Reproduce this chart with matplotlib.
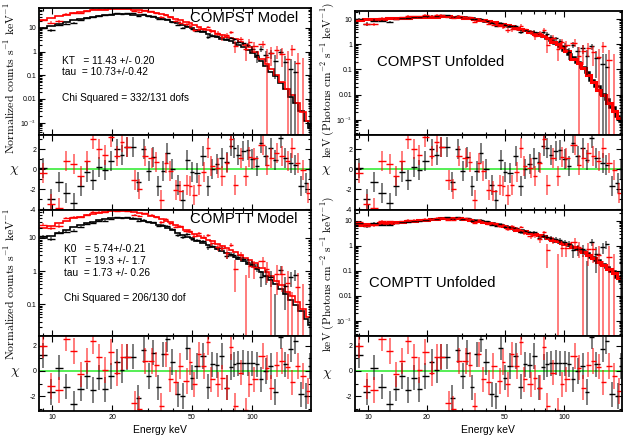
import numpy as np
import matplotlib
matplotlib.use("Agg")
import matplotlib.pyplot as plt
from matplotlib.ticker import FixedLocator, NullFormatter, FixedFormatter, LogLocator

plt.rcParams['mathtext.fontset'] = 'cm'
plt.rcParams['font.family'] = ['Liberation Sans', 'DejaVu Sans']

# ---------------- data (energies in keV) ----------------
e_blk = [9.0, 9.85, 10.8, 11.8, 12.9, 13.9, 15.0, 16.1, 17.2, 18.3, 19.6, 21.2, 22.4, 23.6, 25.4,
         26.9, 28.8, 30.5, 32.0, 34.0, 35.8, 37.6, 39.8, 42.8, 44.9, 47.5, 49.9, 53.0, 57.0, 60.0,
         63.3, 66.6, 70.5, 74.7, 78.5, 81.6, 85.4, 90.5, 95.1, 100.4, 106, 111, 117, 124, 130,
         139, 146, 157, 164, 175, 187, 195]
e_red = [9.0, 9.85, 10.8, 11.8, 12.9, 13.9, 15.0, 16.1, 17.2, 18.3, 19.6, 21.2, 22.4, 23.6,
         25.9, 27.3, 29.0, 31.5, 33.0, 35.2, 37.0, 38.8, 41.5, 43.5, 47.2, 49.0, 51.5, 54.0, 57.5,
         60.5, 62.5, 67.5, 71.0, 75.0, 78.8, 82.0, 88.1, 93.0, 97.0, 102.5, 112.9, 118.6, 125,
         132.8, 141, 150.6, 158, 169, 180, 190]

# residuals (chi) for the two fits
chi_compst_blk = [0.1, -3.0, -1.27, -2.4, -3.4, -1.73, -0.33, -1.07, 0.2, -0.13, 0.8, 2.0, 1.4, 2.2,
                  2.2, -1.33, 2.0, -0.15, 1.2, -1.7, -0.2, 1.6, 0.0, -1.57, -3.07, 0.93, -0.33,
                  -0.4, 1.33, -1.67, 0.0, 0.53, 1.1, 0.67, 2.3, 2.1, 1.43, 1.77, 1.87, 1.0, 0.27,
                  2.6, 1.33, 2.1, 0.93, 3.1, 1.1, 0.6, 0.43, -1.73, -1.4, 0.0]
chi_compst_red = [-0.4, -3.5, -3.9, 0.8, 0.53, -0.73, 0.8, 3.0, 2.0, 1.4, 3.17, 1.33, 2.7, 2.2,
                  -1.07, -2.0, 1.27, 1.1, 0.67, -3.1, 0.6, -0.23, -2.1, -2.23, -1.57, -1.73, -2.57,
                  -1.57, -0.33, 2.1, 0.33, 0.1, -0.73, 0.6, 3.0, -1.57, 1.1, -0.73, 1.2, 1.1, 2.43,
                  0.43, 1.1, 1.6, 1.27, 0.77, 2.1, 0.6, -0.07, -2.4]
chi_comptt_blk = [1.23, -1.65, 0.26, -1.23, -2.6, -1.39, -0.39, -1.49, -0.52, -1.44, -0.39, 0.7,
                  0.08, 1.1, 1.12, -2.1, 1.65, -0.39, 1.44, -1.3, 1.3, 2.5, 0.7, -1.83, -1.96, 1.83,
                  -0.52, 0.39, 1.18, -1.23, 0.52, 0.44, 1.18, -1.31, 0.3, 0.52, 0.6, 0.65, 0.6, 0.6,
                  0.52, -0.65, 0.0, 0.39, -1.65, 2.7, 0.52, 1.7, 2.35, -1.83, -1.96, 0.39]
chi_comptt_red = [2.0, -1.18, -1.49, 2.54, 1.57, -0.26, 0.78, 2.35, 1.1, 0.08, 1.49, -0.18, 1.1,
                  1.12, -2.54, -3.0, 0.78, 0.8, 0.5, -2.75, 1.3, -0.65, -0.9, 0.39, -0.78, 0.7,
                  -1.05, 1.3, 0.39, 2.27, -0.65, -1.05, -0.52, -1.31, 1.9, -2.75, -0.13, -3.1,
                  -1.05, -0.65, 1.18, 0.26, -1.31, 0.5, 0.78, 0.34, -0.9, 0.39, -0.39, -1.57]

# 1-sigma errors of the count spectra (counts s^-1 keV^-1)
sig_blk = [1.2, 1.3, 1.4, 1.5, 1.6, 1.6, 1.7, 1.7, 1.8, 1.8, 1.8, 1.9, 1.9, 1.9, 1.8, 1.8, 1.7,
           1.7, 1.6, 1.5, 1.4, 1.4, 1.3, 1.2, 1.1, 1.0, 0.95, 0.9, 0.8, 0.75, 0.7, 0.65, 0.6,
           0.55, 0.5, 0.48, 0.45, 0.42, 0.40, 0.38, 0.36, 0.35, 0.34, 0.33, 0.32, 0.31, 0.30,
           0.30, 0.29, 0.29, 0.28, 0.28]
sig_red = [2.5, 2.7, 2.9, 3.0, 3.2, 3.3, 3.4, 3.5, 3.5, 3.6, 3.6, 3.6, 3.6, 3.6, 3.5, 3.4, 3.3,
           3.1, 3.0, 2.8, 2.6, 2.5, 2.3, 2.2, 2.0, 1.9, 1.8, 1.7, 1.6, 1.5, 1.45, 1.3, 1.2, 1.1,
           1.0, 0.95, 0.9, 0.85, 0.8, 0.75, 0.7, 0.7, 0.65, 0.65, 0.6, 0.6, 0.6, 0.55, 0.55, 0.55]

# folded model (log10 counts s^-1 keV^-1)
cnt_compst_blk = [0.99, 1.08, 1.17, 1.26, 1.33, 1.39, 1.44, 1.48, 1.52, 1.54, 1.56, 1.58, 1.58,
                  1.58, 1.57, 1.55, 1.53, 1.50, 1.47, 1.42, 1.38, 1.33, 1.27, 1.19, 1.13, 1.06,
                  0.99, 0.91, 0.81, 0.74, 0.67, 0.61, 0.55, 0.49, 0.43, 0.38, 0.30, 0.18, 0.07,
                  -0.05, -0.22, -0.39, -0.59, -0.84, -1.03, -1.33, -1.57, -1.92, -2.15, -2.49,
                  -2.93, -3.24]
cnt_compst_red = [1.35, 1.42, 1.49, 1.56, 1.63, 1.67, 1.71, 1.74, 1.77, 1.78, 1.79, 1.80, 1.79,
                  1.79, 1.76, 1.75, 1.72, 1.67, 1.63, 1.58, 1.53, 1.47, 1.39, 1.34, 1.24, 1.19,
                  1.12, 1.06, 0.97, 0.90, 0.86, 0.76, 0.70, 0.64, 0.58, 0.52, 0.39, 0.27, 0.18,
                  -0.01, -0.31, -0.51, -0.73, -0.99, -1.27, -1.59, -1.83, -2.17, -2.54, -2.91]
cnt_comptt_blk = [1.00, 1.07, 1.15, 1.24, 1.32, 1.38, 1.44, 1.49, 1.53, 1.56, 1.59, 1.61, 1.61,
                  1.60, 1.58, 1.56, 1.52, 1.48, 1.44, 1.39, 1.35, 1.30, 1.24, 1.16, 1.10, 1.04,
                  0.99, 0.92, 0.84, 0.79, 0.73, 0.68, 0.62, 0.55, 0.49, 0.44, 0.38, 0.30, 0.23,
                  0.15, 0.05, -0.04, -0.14, -0.28, -0.38, -0.55, -0.68, -0.88, -1.01, -1.20,
                  -1.45, -1.62]
cnt_comptt_red = [1.31, 1.37, 1.44, 1.52, 1.59, 1.64, 1.68, 1.72, 1.75, 1.77, 1.80, 1.81, 1.81,
                  1.80, 1.77, 1.75, 1.72, 1.66, 1.62, 1.57, 1.52, 1.47, 1.38, 1.33, 1.24, 1.19,
                  1.13, 1.07, 1.00, 0.94, 0.91, 0.83, 0.76, 0.69, 0.63, 0.58, 0.49, 0.41, 0.35,
                  0.26, 0.08, -0.02, -0.14, -0.29, -0.43, -0.62, -0.75, -0.94, -1.15, -1.37]

# unfolded model (log10 keV Photons cm^-2 s^-1 keV^-1)
unf_compst_blk = [0.98, 0.99, 1.00, 1.01, 1.03, 1.04, 1.05, 1.06, 1.07, 1.08, 1.09, 1.10, 1.10,
                  1.11, 1.11, 1.10, 1.09, 1.07, 1.06, 1.03, 1.00, 0.97, 0.94, 0.89, 0.85, 0.81,
                  0.77, 0.73, 0.66, 0.61, 0.55, 0.49, 0.43, 0.38, 0.33, 0.26, 0.17, 0.06, -0.07,
                  -0.22, -0.38, -0.52, -0.70, -0.92, -1.10, -1.42, -1.65, -1.99, -2.18, -2.50,
                  -2.83, -3.03]
unf_compst_red = [0.98, 0.99, 1.00, 1.01, 1.03, 1.04, 1.05, 1.06, 1.07, 1.08, 1.09, 1.10, 1.10,
                  1.11, 1.11, 1.10, 1.09, 1.06, 1.05, 1.01, 0.98, 0.95, 0.91, 0.88, 0.82, 0.79,
                  0.75, 0.71, 0.65, 0.60, 0.56, 0.48, 0.42, 0.37, 0.32, 0.25, 0.11, 0.00, -0.12,
                  -0.28, -0.58, -0.75, -0.95, -1.20, -1.48, -1.80, -2.02, -2.33, -2.64, -2.92]
unf_comptt_blk = [0.85, 0.87, 0.89, 0.90, 0.92, 0.94, 0.96, 0.98, 1.00, 1.02, 1.04, 1.07, 1.09,
                  1.10, 1.11, 1.11, 1.10, 1.08, 1.06, 1.03, 1.00, 0.98, 0.95, 0.90, 0.87, 0.82,
                  0.78, 0.72, 0.66, 0.62, 0.57, 0.53, 0.48, 0.43, 0.38, 0.33, 0.28, 0.21, 0.16,
                  0.09, 0.02, -0.04, -0.12, -0.22, -0.30, -0.45, -0.56, -0.73, -0.84, -1.02,
                  -1.24, -1.40]
unf_comptt_red = [0.85, 0.87, 0.89, 0.90, 0.92, 0.94, 0.96, 0.98, 1.00, 1.02, 1.04, 1.07, 1.09,
                  1.10, 1.11, 1.11, 1.10, 1.07, 1.05, 1.01, 0.99, 0.96, 0.92, 0.89, 0.83, 0.80,
                  0.75, 0.71, 0.65, 0.61, 0.58, 0.51, 0.47, 0.42, 0.38, 0.33, 0.24, 0.18, 0.13,
                  0.06, -0.06, -0.14, -0.23, -0.35, -0.48, -0.64, -0.75, -0.91, -1.09, -1.28]

x_ticks = [10, 20, 50, 100]
x_ticklabels = ['10', '20', '50', '100']

# ---------------- helpers ----------------
W, H = 623, 437
fig = plt.figure(figsize=(W / 100, H / 100), dpi=100)


def make_ax(x0, y0, x1, y1):
    return fig.add_axes([x0 / W, 1 - y1 / H, (x1 - x0) / W, (y1 - y0) / H])


def edges(e):
    e = np.asarray(e, float)
    mid = np.sqrt(e[:-1] * e[1:])
    return np.concatenate([[e[0] ** 2 / mid[0]], mid, [e[-1] ** 2 / mid[-1]]])


def points(ax, e, y, yerr, color):
    e = np.asarray(e, float)
    ed = edges(e)
    ax.errorbar(e, y, yerr=yerr, fmt='none', ecolor=color, elinewidth=1.2, alpha=0.6, capsize=0)
    ax.errorbar(e, y, xerr=[e - ed[:-1], ed[1:] - e], fmt='none', ecolor=color,
                elinewidth=1.0, capsize=0)


def model(ax, e, logv, color, lw=1.2):
    ax.stairs(10 ** np.asarray(logv), edges(e), color=color, lw=lw, baseline=None)


def style(ax, xlabels=False):
    ax.set_xscale('log')
    ax.set_xlim(8.6, 197)
    ax.xaxis.set_major_locator(FixedLocator(x_ticks))
    ax.xaxis.set_minor_locator(FixedLocator([9, 30, 40, 60, 70, 80, 90]))
    if xlabels:
        ax.xaxis.set_major_formatter(FixedFormatter(x_ticklabels))
    else:
        ax.xaxis.set_major_formatter(NullFormatter())
    ax.xaxis.set_minor_formatter(NullFormatter())
    ax.tick_params(which='both', direction='in', top=True, right=True, labelsize=5, pad=2,
                   width=0.8)
    ax.tick_params(which='major', length=4)
    ax.tick_params(which='minor', length=2)
    for s in ax.spines.values():
        s.set_linewidth(1.3)


log_labels = {10: '10', 1: '1', 0.1: '0.1', 0.01: '0.01', 0.001: r'10$^{-3}$'}


def style_log(ax, ylim):
    ax.set_yscale('log')
    ax.set_ylim(*ylim)
    vals = [v for v in log_labels if ylim[0] <= v <= ylim[1]]
    ax.yaxis.set_major_locator(FixedLocator(vals))
    ax.yaxis.set_major_formatter(FixedFormatter([log_labels[v] for v in vals]))
    ax.yaxis.set_minor_locator(LogLocator(base=10, subs=np.arange(2, 10), numticks=20))
    ax.yaxis.set_minor_formatter(NullFormatter())


def style_res(ax, ylim, ticks):
    ax.set_ylim(*ylim)
    ax.yaxis.set_major_locator(FixedLocator(ticks))
    ax.yaxis.set_major_formatter(FixedFormatter([str(t) for t in ticks]))
    ax.yaxis.set_minor_locator(FixedLocator([-3, -1, 1, 3]))
    ax.axhline(0, color='#55ee55', lw=1.4, zorder=0)


def derived(cnt, chi, sig):
    m = 10 ** np.asarray(cnt)
    return m + np.asarray(chi) * np.asarray(sig), m


# ---------------- panels ----------------
fits = [
    (cnt_compst_blk, cnt_compst_red, chi_compst_blk, chi_compst_red, unf_compst_blk, unf_compst_red),
    (cnt_comptt_blk, cnt_comptt_red, chi_comptt_blk, chi_comptt_red, unf_comptt_blk, unf_comptt_red),
]
rows = [(8, 135, 210), (210, 336, 411)]
cnt_ylims = [(3e-4, 70), (0.011, 70)]
unf_tops = [11, 210]
unf_ylims = [(2.5e-4, 21), (2.5e-4, 27)]
res_ylims = [(-4.1, 3.4), (-3.15, 2.75)]
res_ticks = [[-4, -2, 0, 2], [-2, 0, 2]]

for i, (cb, cr, xb, xr, ub, ur) in enumerate(fits):
    top, mid, bot = rows[i]
    db, mb = derived(cb, xb, sig_blk)
    dr, mr = derived(cr, xr, sig_red)

    # folded counts
    ax = make_ax(39, top, 311, mid)
    points(ax, e_blk, db, sig_blk, 'black')
    points(ax, e_red, dr, sig_red, 'red')
    model(ax, e_blk, cb, 'black')
    model(ax, e_red, cr, 'red')
    style(ax)
    style_log(ax, cnt_ylims[i])

    # unfolded
    au = make_ax(355, unf_tops[i], 622, mid)
    ubv = 10 ** np.asarray(ub)
    urv = 10 ** np.asarray(ur)
    points(au, e_blk, ubv * db / mb, ubv * np.asarray(sig_blk) / mb, 'black')
    points(au, e_red, urv * dr / mr, urv * np.asarray(sig_red) / mr, 'red')
    model(au, e_blk, ub, 'black', lw=1.8)
    model(au, e_red, ur, 'red', lw=2.2)
    style(au)
    style_log(au, unf_ylims[i])

    # residuals (same for both columns)
    for x0, x1 in [(39, 311), (355, 622)]:
        ar = make_ax(x0, mid, x1, bot)
        points(ar, e_blk, xb, np.ones(len(xb)), 'black')
        points(ar, e_red, xr, np.ones(len(xr)), 'red')
        style(ar, xlabels=(i == 1))
        style_res(ar, res_ylims[i], res_ticks[i])


def ftext(x, y, s, **kw):
    fig.text(x / W, 1 - y / H, s, **kw)


# axis labels
ylab_left = r'$\mathrm{Normalized\ counts\ s^{-1}\ keV^{-1}}$'
ylab_right = r'$\mathrm{keV\ (Photons\ cm^{-2}\ s^{-1}\ keV^{-1})}$'
for y in (78, 284):
    ftext(11, y, ylab_left, rotation=90, ha='center', va='center', fontsize=8.5)
for y in (80, 274):
    ftext(328, y, ylab_right, rotation=90, ha='center', va='center', fontsize=8.2)
for x, y in [(14, 170), (15, 372), (326, 170), (327, 374)]:
    ftext(x, y, r'$\chi$', ha='center', va='center', fontsize=10)

ftext(160, 430, 'Energy keV', ha='center', va='center', fontsize=7.5)
ftext(488, 430, 'Energy keV', ha='center', va='center', fontsize=7.5)

# annotations
big = dict(ha='left', va='center', fontsize=10.7)
ftext(190, 18, 'COMPST Model', **big)
ftext(190, 219, 'COMPTT Model', **big)
ftext(377, 62, 'COMPST Unfolded', **big)
ftext(369, 283, 'COMPTT Unfolded', **big)

small = dict(ha='left', va='center', fontsize=7.3)
ftext(62, 61, 'KT   = 11.43 +/- 0.20', **small)
ftext(62, 72, 'tau  = 10.73+/-0.42', **small)
ftext(62, 98, 'Chi Squared = 332/131 dofs', **small)
ftext(64, 249, 'K0   = 5.74+/-0.21', **small)
ftext(64, 261, 'KT   = 19.3 +/- 1.7', **small)
ftext(64, 273, 'tau  = 1.73 +/- 0.26', **small)
ftext(64, 298, 'Chi Squared = 206/130 dof', **small)

fig.savefig('out.png', dpi=100)
